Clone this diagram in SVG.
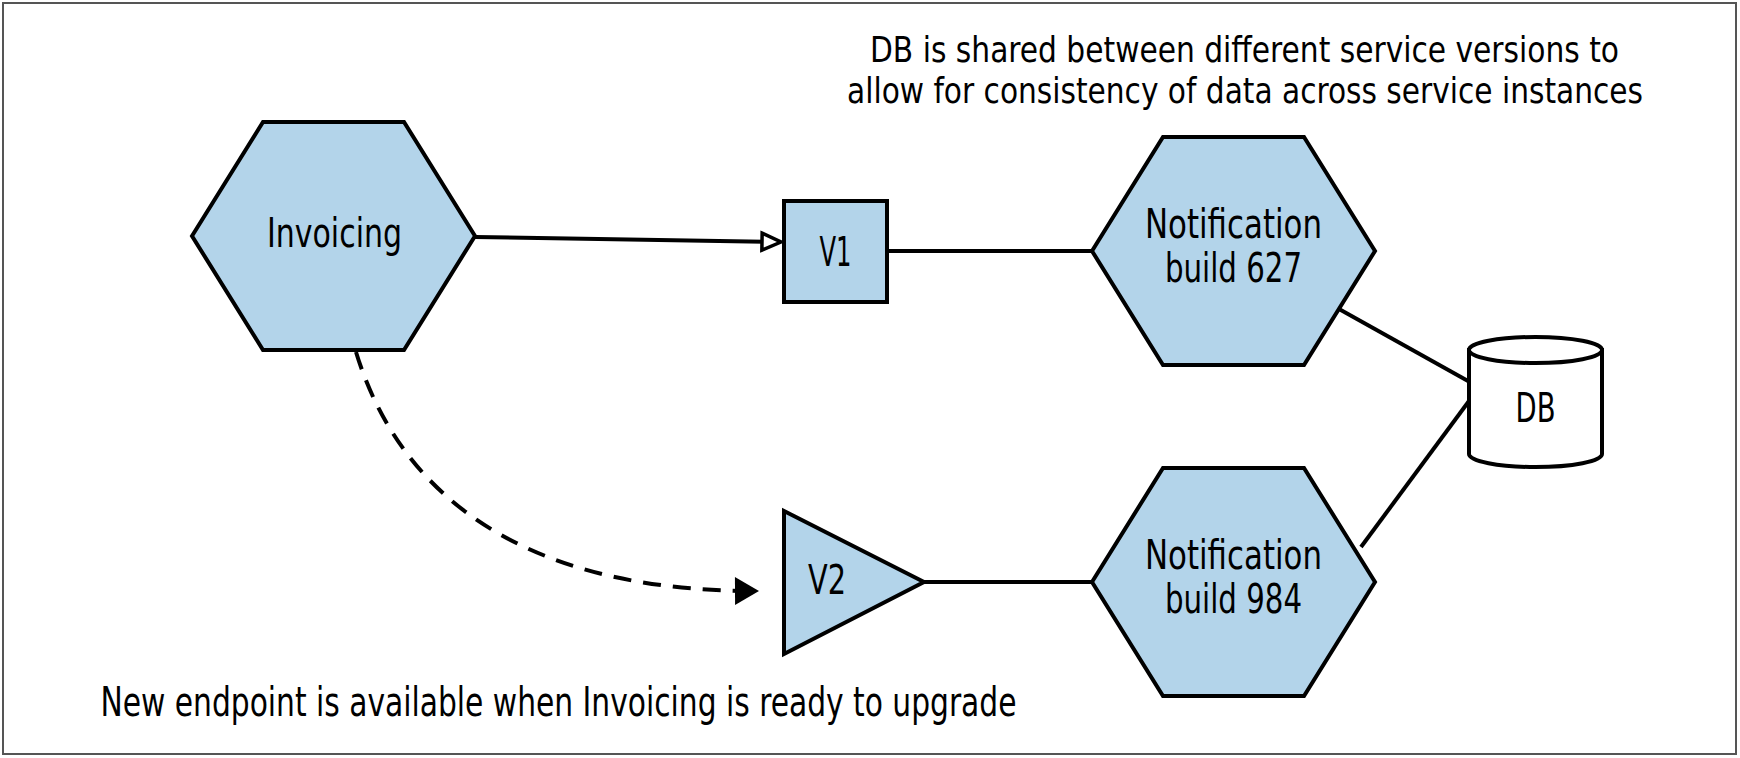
<svg xmlns="http://www.w3.org/2000/svg" width="1740" height="758" viewBox="0 0 1740 758">
  <style>
    .frame { fill: #ffffff; stroke: #555555; stroke-width: 2; }
    .node { fill: #b3d4ea; stroke: #000000; stroke-width: 4; stroke-linejoin: miter; }
    .db { fill: #ffffff; stroke: #000000; stroke-width: 4; }
    .conn { fill: none; stroke: #000000; stroke-width: 4; }
    .dash { stroke-dasharray: 18 12; }
    text { font-family: "Liberation Sans Narrow", "DejaVu Sans Condensed", "Liberation Sans", sans-serif; fill: #000000; text-anchor: middle; }
    .lbl { font-size: 41px; }
    .note { font-size: 35px; }
  </style>
  <defs>
    <marker id="openArrow" markerUnits="userSpaceOnUse" viewBox="0 0 26 22" markerWidth="26" markerHeight="22" refX="22" refY="11" orient="auto" overflow="visible">
      <path d="M3,2.5 L22,11 L3,19.5 Z" fill="#ffffff" stroke="#000000" stroke-width="3.5" stroke-linejoin="miter"/>
    </marker>
    <marker id="solidArrow" markerUnits="userSpaceOnUse" viewBox="0 0 24 28" markerWidth="24" markerHeight="28" refX="24" refY="14" orient="auto" overflow="visible">
      <path d="M0,0 L24,14 L0,28 Z" fill="#000000"/>
    </marker>
  </defs>

  <rect class="frame" x="3" y="3" width="1733" height="751"/>

  <g id="connectors">
    <path class="conn" d="M475,237 L781,242" marker-end="url(#openArrow)"/>
    <path class="conn dash" d="M356,352 C408,522 560,592 759,591" marker-end="url(#solidArrow)"/>
    <path class="conn" d="M887,251 L1092,251"/>
    <path class="conn" d="M924,582 L1092,582"/>
    <path class="conn" d="M1339,309 L1468,381"/>
    <path class="conn" d="M1361,547 L1469,401"/>
  </g>

  <g id="note-top">
    <text class="note" x="1244.5" y="61.5" textLength="749" lengthAdjust="spacingAndGlyphs">DB is shared between different service versions to</text>
    <text class="note" x="1245" y="102.5" textLength="796" lengthAdjust="spacingAndGlyphs">allow for consistency of data across service instances</text>
  </g>

  <g id="invoicing">
    <polygon class="node" points="192,236 263,122 404,122 475,236 404,350 263,350"/>
    <text class="lbl" x="334.5" y="247" textLength="135" lengthAdjust="spacingAndGlyphs">Invoicing</text>
  </g>

  <g id="v1">
    <rect class="node" x="784" y="201" width="103" height="101"/>
    <text class="lbl" x="835.5" y="266" textLength="32" lengthAdjust="spacingAndGlyphs">V1</text>
  </g>

  <g id="v2">
    <polygon class="node" points="784,511 784,654 924,582"/>
    <text class="lbl" x="827" y="594" textLength="38" lengthAdjust="spacingAndGlyphs">V2</text>
  </g>

  <g id="notification-627">
    <polygon class="node" points="1092,251 1163,137 1304,137 1375,251 1304,365 1163,365"/>
    <text class="lbl"><tspan x="1233.5" y="237.5" textLength="177" lengthAdjust="spacingAndGlyphs">Notification</tspan><tspan x="1233.5" y="281.5" textLength="137" lengthAdjust="spacingAndGlyphs">build 627</tspan></text>
  </g>

  <g id="notification-984">
    <polygon class="node" points="1092,582 1163,468 1304,468 1375,582 1304,696 1163,696"/>
    <text class="lbl"><tspan x="1233.5" y="569" textLength="177" lengthAdjust="spacingAndGlyphs">Notification</tspan><tspan x="1233.5" y="613" textLength="137" lengthAdjust="spacingAndGlyphs">build 984</tspan></text>
  </g>

  <g id="db">
    <path class="db" d="M1469,350 L1469,454 A66.5,13 0 0 0 1602,454 L1602,350 Z"/>
    <ellipse class="db" cx="1535.5" cy="350" rx="66.5" ry="13"/>
    <text class="lbl" x="1535.5" y="421.5" textLength="40" lengthAdjust="spacingAndGlyphs">DB</text>
  </g>

  <g id="note-bottom">
    <text class="note" x="558.5" y="716" textLength="916" lengthAdjust="spacingAndGlyphs" style="font-size:40px">New endpoint is available when Invoicing is ready to upgrade</text>
  </g>
</svg>
